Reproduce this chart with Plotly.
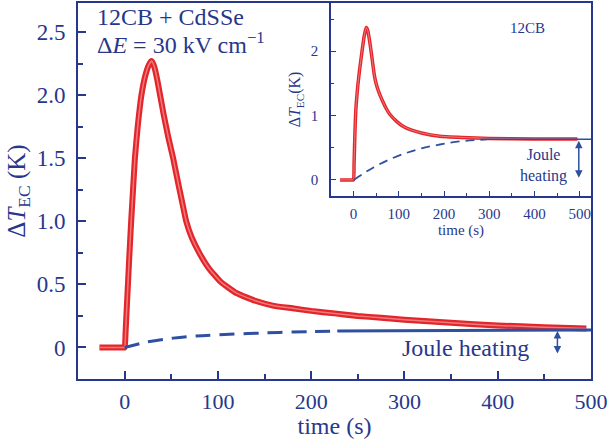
import plotly.graph_objects as go

# ---- data ----
main_t = [-27, -20, -10, -3, 0, 1, 2, 3, 4, 5, 6, 7, 9, 11, 14, 18, 22, 26, 29, 32, 35,
          38, 42, 47, 52, 58, 62, 66, 72, 80, 90, 103, 120, 140, 160, 180, 200, 225,
          250, 275, 300, 350, 400, 450, 495]
main_dT = [0, 0, 0, 0, 0, 0.12, 0.27, 0.42, 0.57, 0.72, 0.86, 1.0, 1.25, 1.5, 1.75, 2.0,
           2.15, 2.24, 2.27, 2.22, 2.12, 2.0, 1.84, 1.66, 1.5, 1.28, 1.14, 1.0, 0.87,
           0.75, 0.63, 0.52, 0.43, 0.37, 0.33, 0.31, 0.29, 0.27, 0.25, 0.235, 0.22,
           0.195, 0.175, 0.16, 0.15]

main_joule_dash_t = [0, 25, 52, 75, 100, 150, 199, 228]
main_joule_dash_y = [0, 0.045, 0.074, 0.09, 0.10, 0.115, 0.126, 0.13]
main_joule_solid_t = [228, 300, 400, 500]
main_joule_solid_y = [0.13, 0.133, 0.136, 0.138]

ins_t = [-30, -20, -10, -2, 0, 1, 2, 3, 4, 5, 6, 9, 13, 18, 23, 26, 28, 31, 34, 37, 40,
         43, 46, 50, 55, 60, 65, 72, 80, 95, 110, 130, 150, 190, 240, 300, 400, 495]
ins_dT = [0, 0, 0, 0, 0, 0.25, 0.5, 0.75, 0.95, 1.1, 1.2, 1.45, 1.7, 1.97, 2.22, 2.32,
          2.37, 2.33, 2.22, 2.08, 1.93, 1.77, 1.62, 1.49, 1.38, 1.29, 1.21, 1.11, 1.02,
          0.91, 0.83, 0.77, 0.73, 0.68, 0.66, 0.645, 0.635, 0.635]

ins_joule_dash_t = [0, 43, 80, 117, 150, 191, 236, 295]
ins_joule_dash_y = [0, 0.19, 0.32, 0.42, 0.49, 0.55, 0.60, 0.63]
ins_joule_solid_t = [295, 525]
ins_joule_solid_y = [0.63, 0.63]

main_yticks = [0, 0.5, 1.0, 1.5, 2.0, 2.5]
main_yticklabels = ["0", "0.5", "1.0", "1.5", "2.0", "2.5"]
main_xticks = [0, 100, 200, 300, 400, 500]
ins_yticks = [0, 1, 2]
ins_xticks = [0, 100, 200, 300, 400, 500]

# ---- styles ----
NAVY = "#27378c"
BLUE = "#2f4f9f"
RED = "#e3262b"
RED_IN = "#f07a7a"
FONT = "Liberation Serif, Times New Roman, DejaVu Serif, serif"

fig = go.Figure()

# main red curve (ribbon look)
fig.add_trace(go.Scatter(x=main_t, y=main_dT, mode="lines",
                         line=dict(color=RED, width=6, shape="spline", smoothing=0.4),
                         xaxis="x", yaxis="y", showlegend=False))
fig.add_trace(go.Scatter(x=main_t, y=main_dT, mode="lines",
                         line=dict(color=RED_IN, width=1.5, shape="spline", smoothing=0.4),
                         xaxis="x", yaxis="y", showlegend=False))
fig.add_trace(go.Scatter(x=main_joule_dash_t, y=main_joule_dash_y, mode="lines",
                         line=dict(color=BLUE, width=3, dash="15px,9px", shape="spline"),
                         xaxis="x", yaxis="y", showlegend=False))
fig.add_trace(go.Scatter(x=main_joule_solid_t, y=main_joule_solid_y, mode="lines",
                         line=dict(color=BLUE, width=3),
                         xaxis="x", yaxis="y", showlegend=False))

# inset
fig.add_trace(go.Scatter(x=ins_t, y=ins_dT, mode="lines",
                         line=dict(color=RED, width=3.5, shape="spline", smoothing=0.4),
                         xaxis="x2", yaxis="y2", showlegend=False))
fig.add_trace(go.Scatter(x=ins_t, y=ins_dT, mode="lines",
                         line=dict(color=RED_IN, width=1, shape="spline", smoothing=0.4),
                         xaxis="x2", yaxis="y2", showlegend=False))
fig.add_trace(go.Scatter(x=ins_joule_dash_t, y=ins_joule_dash_y, mode="lines",
                         line=dict(color=BLUE, width=1.8, dash="9px,6px", shape="spline"),
                         xaxis="x2", yaxis="y2", showlegend=False))
fig.add_trace(go.Scatter(x=ins_joule_solid_t, y=ins_joule_solid_y, mode="lines",
                         line=dict(color=BLUE, width=1.5),
                         xaxis="x2", yaxis="y2", showlegend=False))

axis_common = dict(showline=True, linecolor=NAVY, mirror=True, showgrid=False,
                   zeroline=False, ticks="inside", tickcolor=NAVY)

fig.update_layout(
    width=610, height=439,
    margin=dict(l=78, r=19, t=1, b=60),
    paper_bgcolor="white", plot_bgcolor="white",
    font=dict(family=FONT, color=NAVY),
    hovermode=False,
    xaxis=dict(**axis_common, domain=[0, 1], anchor="y", range=[-50, 500],
               linewidth=2, ticklen=8, tickwidth=1.5,
               tickvals=main_xticks, tickfont=dict(size=22, family=FONT, color=NAVY),
               minor=dict(ticks="inside", dtick=50, tick0=0, ticklen=5, tickcolor=NAVY, tickwidth=1.5),
               ticklabelstandoff=2,
               title=dict(text="time (s)", font=dict(size=24, family=FONT, color=NAVY), standoff=0)),
    yaxis=dict(**axis_common, domain=[0, 1], anchor="x", range=[-0.25, 2.73],
               linewidth=2, ticklen=8, tickwidth=1.5,
               tickvals=main_yticks, ticktext=main_yticklabels,
               tickfont=dict(size=23, family=FONT, color=NAVY),
               minor=dict(ticks="inside", dtick=0.25, tick0=0, ticklen=5, tickcolor=NAVY, tickwidth=1.5),
               ticklabelstandoff=6,
               title=dict(text="Δ<i>T</i><sub>EC</sub> (K)", font=dict(size=25, family=FONT, color=NAVY), standoff=4)),
    xaxis2=dict(**axis_common, domain=[0.4932, 1], anchor="y2", range=[-50, 525],
                linewidth=1.5, ticklen=5, tickwidth=1.2,
                tickvals=ins_xticks, tickfont=dict(size=15, family=FONT, color=NAVY),
                minor=dict(ticks="inside", dtick=50, tick0=0, ticklen=3, tickcolor=NAVY, tickwidth=1.2),
                ticklabelstandoff=3,
                title=dict(text="time (s)", font=dict(size=15, family=FONT, color=NAVY), standoff=0)),
    yaxis2=dict(**axis_common, domain=[0.4868, 1], anchor="x2", range=[-0.25, 2.75],
                linewidth=1.5, ticklen=5, tickwidth=1.2,
                tickvals=ins_yticks, tickfont=dict(size=15, family=FONT, color=NAVY),
                minor=dict(ticks="inside", dtick=0.5, tick0=0, ticklen=3, tickcolor=NAVY, tickwidth=1.2),
                ticklabelstandoff=8,
                title=dict(text="Δ<i>T</i><sub>EC</sub>(K)", font=dict(size=16, family=FONT, color=NAVY), standoff=6)),
)

annots = [
    dict(x=-32, y=2.62, xref="x", yref="y", text="12CB + CdSSe", showarrow=False,
         xanchor="left", yanchor="middle", font=dict(size=24, family=FONT, color=NAVY)),
    dict(x=-32, y=2.41, xref="x", yref="y", text="Δ<i>E</i> = 30 kV cm<sup>−1</sup>", showarrow=False,
         xanchor="left", yanchor="middle", font=dict(size=24, family=FONT, color=NAVY)),
    dict(x=365, y=-0.005, xref="x", yref="y", text="Joule heating", showarrow=False,
         xanchor="center", yanchor="middle", font=dict(size=24, family=FONT, color=NAVY)),
    dict(x=385, y=2.36, xref="x2", yref="y2", text="12CB", showarrow=False,
         xanchor="center", yanchor="middle", font=dict(size=15, family=FONT, color=NAVY)),
    dict(x=420, y=0.23, xref="x2", yref="y2", text="Joule<br>heating", showarrow=False,
         xanchor="center", yanchor="middle", font=dict(size=16, family=FONT, color=NAVY)),
    # double-headed arrows
    dict(x=464, y=0.13, ax=464, ay=-0.06, xref="x", yref="y", axref="x", ayref="y",
         text="", showarrow=True, arrowhead=2, arrowside="end+start", arrowsize=1,
         arrowwidth=1.5, arrowcolor=BLUE),
    dict(x=498, y=0.61, ax=498, ay=0.01, xref="x2", yref="y2", axref="x2", ayref="y2",
         text="", showarrow=True, arrowhead=2, arrowside="end+start", arrowsize=1,
         arrowwidth=1.5, arrowcolor=BLUE),
]
fig.update_layout(annotations=annots)

fig.write_html("out.html", config={"displayModeBar": False},
               post_script="document.body.style.margin='0px';")
